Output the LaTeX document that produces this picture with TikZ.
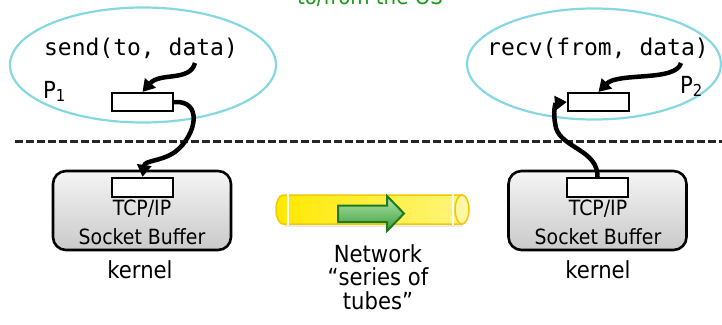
\documentclass[tikz,border=0pt]{standalone}
\usepackage{fontspec}
\setmainfont[FakeStretch=0.9]{DejaVu Sans}
\newfontfamily\monof{DejaVu Sans Mono}
\usetikzlibrary{arrows.meta,shapes.geometric}
\definecolor{cyanline}{HTML}{84D8E2}
\definecolor{ostext}{HTML}{1A9A1A}
\definecolor{tubeline}{HTML}{F2C800}
\definecolor{tubeA}{HTML}{FFE800}
\definecolor{tubeB}{HTML}{FFF57A}
\definecolor{tubeEnd}{HTML}{FFF6A6}
\definecolor{garrowA}{HTML}{B2E6AA}
\definecolor{garrowB}{HTML}{3C9C3C}
\definecolor{garrowL}{HTML}{1E7A1E}
\tikzset{
  x=1pt, y=-1pt,
  proc/.style={ellipse, draw=cyanline, line width=2.2pt, inner sep=0pt},
  code/.style={inner sep=0pt, font=\monof\fontsize{23}{26}\selectfont},
  lbl/.style={inner sep=0pt, font=\fontsize{21}{24}\selectfont},
  biglbl/.style={inner sep=0pt, font=\fontsize{23.5}{26}\selectfont},
  buf/.style={draw=black, line width=2.2pt, fill=white, minimum width=61pt, minimum height=18pt, inner sep=0pt},
  kbox/.style={draw=black, line width=2.6pt, rounded corners=13pt, top color=gray!8, bottom color=gray!42, minimum width=178pt, minimum height=79pt, inner sep=0pt},
  flow/.style={line width=4.5pt, -{Triangle[length=12pt,width=14pt]}},
}
\begin{document}
\begin{tikzpicture}
\useasboundingbox (0,0) rectangle (722,324);
\clip (0,0) rectangle (722,324);
% top clipped text
\node[anchor=base, inner sep=0pt, text=ostext, font=\fontsize{22}{24}\selectfont] (os) at (370,5) {to/from the OS};
% dashed separator
\coordinate (dl) at (15,141);
\coordinate (dr) at (722,141);
\draw[line width=3pt, dash pattern=on 7.5pt off 3.5pt, black!85] (dl) -- (dr);
% processes
\node[proc, minimum width=266pt, minimum height=115pt] (e1) at (143,65) {};
\node[proc, minimum width=254pt, minimum height=111pt] (e2) at (594,64) {};
\node[code] (send) at (141,48) {send(to, data)};
\node[code] (recv) at (598,48) {recv(from, data)};
\node[biglbl, anchor=base west] (p1) at (43,98) {P\textsubscript{1}};
\node[biglbl, anchor=base west] (p2) at (680,93) {P\textsubscript{2}};
\node[buf] (b1) at (142.5,102) {};
\node[buf] (b2) at (598.5,102) {};
% kernels
\node[kbox] (k1) at (142,210.5) {};
\node[kbox] (k2) at (597.5,210.5) {};
\node[buf, minimum height=19pt] (kb1) at (142.5,187.5) {};
\node[buf, minimum height=19pt] (kb2) at (597.5,187.5) {};
\node[lbl] (t1) at (142,209) {TCP/IP};
\node[lbl] (s1) at (142,237) {Socket Buffer};
\node[biglbl] (ke1) at (140,270) {kernel};
\node[lbl] (t2) at (598,209) {TCP/IP};
\node[lbl] (s2) at (598,237) {Socket Buffer};
\node[biglbl] (ke2) at (598,270) {kernel};
% network tube
\fill[black!8] (284,224) rectangle (462,227);
\draw[tubeline, line width=1.5pt, left color=tubeA, right color=tubeB]
  (283,195) -- (462,195) -- (462,224) -- (283,224) arc[start angle=90, end angle=270, x radius=7, y radius=14.5] -- cycle;
\node[ellipse, draw=tubeline, line width=1.5pt, fill=tubeEnd, minimum width=14pt, minimum height=29pt, inner sep=0pt] (tend) at (462,209.5) {};
\draw[white, line width=2pt] (288,194) -- (288,225);
\draw[white, line width=2pt] (453,194) -- (453,225);
\draw[garrowL, line width=2pt, top color=garrowA, bottom color=garrowB]
  (338,205.5) -- (387,205.5) -- (387,196) -- (404,213.5) -- (387,231) -- (387,222) -- (338,222) -- cycle;
\node[biglbl] (n1) at (378,254) {Network};
\node[biglbl] (n2) at (378,277) {“series of};
\node[biglbl] (n3) at (378,301) {tubes”};
% flows
\coordinate (sa) at (195,63);
\draw[flow] (sa) .. controls (190,82) and (160,72) .. (b1.north);
\draw[flow] (b1.east) .. controls (203,100) and (197,135) .. (175,152) .. controls (160,162) and (145,160) .. (kb1.north);
\coordinate (ra) at (681,63);
\draw[flow] (ra) .. controls (676,82) and (618,72) .. (b2.north);
\draw[flow] (kb2.north) .. controls (598,150) and (562,148) .. (556,128) .. controls (552,110) and (556,103) .. (b2.west);
\end{tikzpicture}
\end{document}
